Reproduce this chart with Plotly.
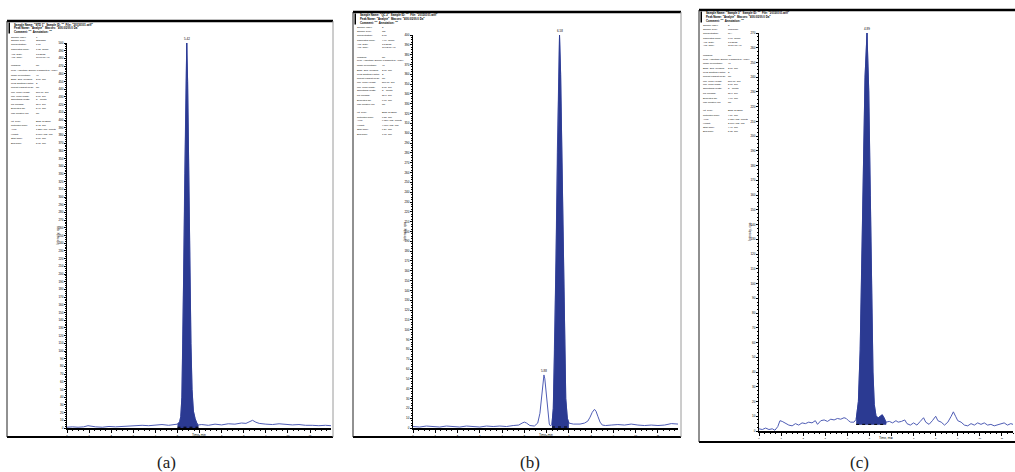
import plotly.graph_objects as go

W, H = 1015, 472

# ---------------- data (intensity in thousands of counts) ----------------
tA = [0.0,0.25,0.5,0.75,0.95,1.1,1.3,1.6,1.9,2.2,2.5,2.8,3.1,3.4,3.7,4.0,4.3,4.6,4.8,
      5.0,5.1,5.15,5.2,5.24,5.28,5.33,5.38,5.42,5.46,5.51,5.56,5.61,5.66,5.72,5.8,5.88,5.95,
      6.1,6.4,6.7,7.0,7.3,7.6,7.9,8.1,8.25,8.4,8.55,8.7,9.0,9.3,9.6,9.9,10.2,10.5,10.8,11.1,11.4,11.7,11.95]
iA = [1,1.5,1,1.5,3,2,1.5,1,2,1.5,2,2.5,2.5,3.5,3,4,4.5,3.5,4.5,
      5,8,15,40,110,200,330,450,500,450,330,200,110,50,22,12,6,4,
      4.5,3.5,5,4,5.5,5,6.5,6,8,10,7.5,6,5,4.5,5.5,5,4,4.5,3.5,3.5,3,3.5,3]
fillA = (19, 36)

tB = [0.0,0.3,0.6,0.9,1.2,1.5,1.8,2.1,2.4,2.7,3.0,3.3,3.6,3.9,4.2,4.5,4.75,4.9,5.0,5.1,5.25,5.45,
      5.6,5.7,5.78,5.84,5.88,5.92,5.98,6.05,6.12,6.18,6.24,6.3,6.36,6.42,6.48,6.53,6.58,6.63,6.68,
      6.74,6.8,6.86,6.93,7.0,7.2,7.5,7.7,7.85,7.95,8.05,8.15,8.22,8.3,8.4,8.5,8.65,8.9,9.2,9.5,9.8,
      10.1,10.4,10.7,11.0,11.3,11.6,11.9]
iB = [1.5,1,2,1.5,1,2,1.5,1,2,1.5,1,2,1.5,2,1.5,2.5,3,5,6,5,2.5,2,
      5,15,35,50,54,50,35,15,4,2,4,20,80,170,280,360,400,360,280,
      170,80,30,10,5,4,4,5,7,11,16,19,17,12,6,3,2.5,3,3.5,3,4,
      3,2.5,3,2.5,3,4.5,4]
fillB = (32, 45)

tC = [0.0,0.15,0.3,0.45,0.6,0.72,0.85,0.95,1.05,1.2,1.35,1.5,1.65,1.8,1.95,2.1,2.25,2.4,2.55,2.65,
      2.8,2.95,3.1,3.25,3.4,3.55,3.7,3.85,3.95,4.05,4.15,4.3,4.4,4.5,4.58,4.65,4.72,4.8,4.89,4.97,
      5.04,5.1,5.16,5.22,5.3,5.4,5.5,5.58,5.66,5.75,5.9,6.05,6.2,6.3,6.45,6.6,6.7,6.85,7.0,7.15,
      7.3,7.45,7.55,7.7,7.85,8.0,8.1,8.25,8.4,8.55,8.7,8.8,8.9,9.0,9.15,9.3,9.45,9.6,9.75,9.9,
      10.05,10.2,10.35,10.5,10.65,10.8,10.95,11.1,11.25,11.4,11.5]
iC = [1.5,1,2,1,1.5,0.5,3,7,6.5,5,4,3.5,5,4,5.5,5,6,5.5,7,4.5,
      7,7.5,6.5,8,7.5,8.5,8,9,8.5,7,6,6,8,20,55,110,180,240,270,230,
      160,90,40,18,10,9,10,11,9,6,6.5,5.5,7,6,6.5,7.5,5,4,5.5,4,
      6.5,9,6,4.5,7,10,7,6,4,6,10,13,10,7,6,4,3.5,5,4,5.5,
      4.5,5.5,4,4.5,3.5,4,5,5.5,4,5,4.5]
fillC = (32, 49)
baseC = 4.5

peak_labels = {"a": [(5.42, 500, "5.42")],
               "b": [(6.58, 400, "6.58"), (5.88, 54, "5.88")],
               "c": [(4.89, 270, "4.89")]}

header_lines = {
    "a": ['Sample Name: "STD 1"  Sample ID: ""  File: "20150101.wiff"',
          'Peak Name: "Analyte"  Masses: "400.0/200.0 Da"',
          'Comment: ""  Annotation: ""'],
    "b": ['Sample Name: "QC 2"  Sample ID: ""  File: "20150101.wiff"',
          'Peak Name: "Analyte"  Masses: "400.0/200.0 Da"',
          'Comment: ""  Annotation: ""'],
    "c": ['Sample Name: "Sample 3"  Sample ID: ""  File: "20150101.wiff"',
          'Peak Name: "Analyte"  Masses: "400.0/200.0 Da"',
          'Comment: ""  Annotation: ""'],
}
meta_labels = ["Sample Index:", "Sample Type:", "Concentration:", "Calculated Conc:", "Acq. Date:", "Acq. Time:",
               "Modified:", "Proc. Algorithm: Specify Parameters - MQIII", "Noise Percentage:", "Base. Sub. Window:",
               "Peak Splitting Factor:", "Report Largest Peak:", "Min. Peak Height:", "Min. Peak Width:",
               "Smoothing Width:", "RT Window:", "Expected RT:", "Use Relative RT:",
               "Int. Type:", "Retention Time:", "Area:", "Height:", "Start Time:", "End Time:"]
meta_values = {
    "a": ["1", "Standard", "1.00", "1.02  ng/mL", "1/1/2015", "10:00:00 AM", "No", "", "40", "2.00  min", "2", "No",
          "500.00  cps", "5.00  sec", "3    points", "30.0  sec", "5.40  min", "No",
          "Base To Base", "5.42  min", "1.23e+006  counts", "5.00e+005  cps", "5.00  min", "5.95  min"],
    "b": ["2", "QC", "5.00", "4.96  ng/mL", "1/1/2015", "10:12:00 AM", "No", "", "40", "2.00  min", "2", "No",
          "500.00  cps", "5.00  sec", "3    points", "30.0  sec", "6.60  min", "No",
          "Base To Base", "6.58  min", "9.85e+005  counts", "4.00e+005  cps", "6.24  min", "7.00  min"],
    "c": ["3", "Unknown", "N/A", "0.98  ng/mL", "1/1/2015", "10:24:00 AM", "No", "", "40", "2.00  min", "2", "No",
          "500.00  cps", "5.00  sec", "3    points", "30.0  sec", "4.90  min", "No",
          "Base To Base", "4.89  min", "6.72e+005  counts", "2.70e+005  cps", "4.40  min", "5.75  min"],
}
captions = ["(a)", "(b)", "(c)"]

# ---------------- layout geometry (pixels) ----------------
panels = {
    "a": dict(frame=(7, 21, 333, 437), plot=(67, 43, 331, 428), xmax=11.95, ymax=500, cap=166),
    "b": dict(frame=(353, 12, 681, 437), plot=(413, 35, 678, 428), xmax=11.9, ymax=400, cap=530),
    "c": dict(frame=(699, 10, 1016, 442), plot=(759, 33, 1013, 431), xmax=11.5, ymax=270, cap=859),
}
meta_off = [16, 19.5, 23.5, 28, 33, 36, 45, 49, 54, 58.5, 62.5, 66.5, 71, 75, 78.5, 83.5, 88, 92.5,
            100.5, 105, 109, 113.5, 117.5, 122]


def px(x):
    return x / W


def py(y):
    return 1 - y / H


def note(x, y, text, size, xanchor="center", **kw):
    return dict(x=px(x), y=py(y), xref="paper", yref="paper", text=text, showarrow=False,
                xanchor=xanchor, yanchor="middle",
                font=dict(family=kw.pop("family", "Liberation Sans"), size=size, color=kw.pop("color", "black")),
                **kw)


FILL = "#2B3A92"
LINE = "#4F5DB5"
fig = go.Figure()
shapes, annos = [], []
series = {"a": (tA, iA, fillA), "b": (tB, iB, fillB), "c": (tC, iC, fillC)}

for k, name in enumerate(["a", "b", "c"]):
    p = panels[name]
    xa = "x" if k == 0 else f"x{k+1}"
    ya = "y" if k == 0 else f"y{k+1}"
    t, v, (s, e) = series[name]
    fig.add_trace(go.Scatter(x=t, y=v, mode="lines", line=dict(color=LINE, width=1),
                             xaxis=xa, yaxis=ya, showlegend=False, hoverinfo="skip"))
    ft = t[s:e + 1]
    fv = v[s:e + 1]
    if name == "c":
        fig.add_trace(go.Scatter(x=ft + [ft[-1], ft[0]], y=fv + [baseC, baseC], mode="lines",
                                 fill="toself", fillcolor=FILL, line=dict(color=FILL, width=0.8),
                                 xaxis=xa, yaxis=ya, showlegend=False, hoverinfo="skip"))
        bl = baseC
    else:
        fig.add_trace(go.Scatter(x=ft, y=fv, mode="lines", fill="tozeroy", fillcolor=FILL,
                                 line=dict(color=FILL, width=0.8),
                                 xaxis=xa, yaxis=ya, showlegend=False, hoverinfo="skip"))
        bl = 1
    fig.add_trace(go.Scatter(x=[ft[0], ft[-1]], y=[bl, bl], mode="lines",
                             line=dict(color="black", width=1, dash="dot"),
                             xaxis=xa, yaxis=ya, showlegend=False, hoverinfo="skip"))

    x0, y0, x1, y1 = p["plot"]
    fig.layout[("xaxis" if k == 0 else f"xaxis{k+1}")] = dict(
        domain=[px(x0), px(x1)], range=[0, p["xmax"]], dtick=1, tick0=0, anchor=ya, automargin=False,
        ticks="outside", ticklen=3, tickwidth=0.8, tickcolor="black",
        showline=True, linecolor="black", linewidth=1.5, showgrid=False, zeroline=False,
        tickfont=dict(family="Liberation Sans", size=2.5, color="black"),
        minor=dict(dtick=0.25, ticks="outside", ticklen=1, tickcolor="black", tickwidth=0.5))
    fig.layout[("yaxis" if k == 0 else f"yaxis{k+1}")] = dict(
        domain=[py(y1), py(y0)], range=[0, p["ymax"]], dtick=10, tick0=0, anchor=xa, automargin=False,
        ticks="outside", ticklen=2, tickwidth=0.6, tickcolor="black",
        showline=True, linecolor="black", linewidth=1, showgrid=False, zeroline=False,
        tickfont=dict(family="Liberation Sans", size=3, color="black"),
        minor=dict(dtick=2.5, ticks="outside", ticklen=1, tickcolor="black", tickwidth=0.4))

    annos.append(note((x0 + x1) / 2, y1 + 7, "Time, min", 3.2))
    annos.append(note(x0 - 9, (y0 + y1) / 2, "Intensity, cps", 3.2, textangle=-90))
    for (pt, pv, txt) in peak_labels[name]:
        annos.append(dict(x=pt, y=pv, xref=xa, yref=ya, text=txt, showarrow=False,
                          xanchor="center", yanchor="bottom",
                          font=dict(family="Liberation Sans", size=3, color="black")))

    fx0, fy0, fx1, fy1 = p["frame"]
    shapes += [
        dict(type="line", xref="paper", yref="paper", x0=px(fx0), x1=px(fx1), y0=py(fy0), y1=py(fy0),
             line=dict(color="black", width=2.5)),
        dict(type="line", xref="paper", yref="paper", x0=px(fx0), x1=px(fx1), y0=py(fy1), y1=py(fy1),
             line=dict(color="black", width=2)),
        dict(type="line", xref="paper", yref="paper", x0=px(fx0), x1=px(fx0), y0=py(fy0), y1=py(fy1),
             line=dict(color="#222222", width=1)),
    ]
    if name != "c":
        shapes.append(dict(type="line", xref="paper", yref="paper", x0=px(fx1), x1=px(fx1), y0=py(fy0), y1=py(fy1),
                           line=dict(color="#9a9a9a", width=1)))
    shapes.append(dict(type="rect", xref="paper", yref="paper", x0=px(fx0 + 1.5), x1=px(fx0 + 3),
                       y0=py(fy0 + 1.5), y1=py(fy0 + 12.5), fillcolor="black", line=dict(width=0)))
    for j, ln in enumerate(header_lines[name]):
        annos.append(note(fx0 + 5, fy0 + 3.5 + j * 3.6, "<b>" + ln + "</b>", 2.8, xanchor="left"))
    for j, (lab, val) in enumerate(zip(meta_labels, meta_values[name])):
        yy = fy0 + meta_off[j]
        annos.append(note(fx0 + 1.5, yy, lab, 2.4, xanchor="left"))
        if val:
            annos.append(note(fx0 + 27, yy, val, 2.4, xanchor="left"))
    annos.append(note(p["cap"], 462, captions[k], 17, family="Liberation Serif", color="#222222"))

fig.update_layout(width=W, height=H, autosize=False, margin=dict(l=0, r=0, t=0, b=0),
                  paper_bgcolor="white", plot_bgcolor="white", shapes=shapes, annotations=annos,
                  showlegend=False)
fig.write_html("out.html", config={"displayModeBar": False},
               post_script="document.body.style.margin='0';document.body.style.overflow='hidden';")
